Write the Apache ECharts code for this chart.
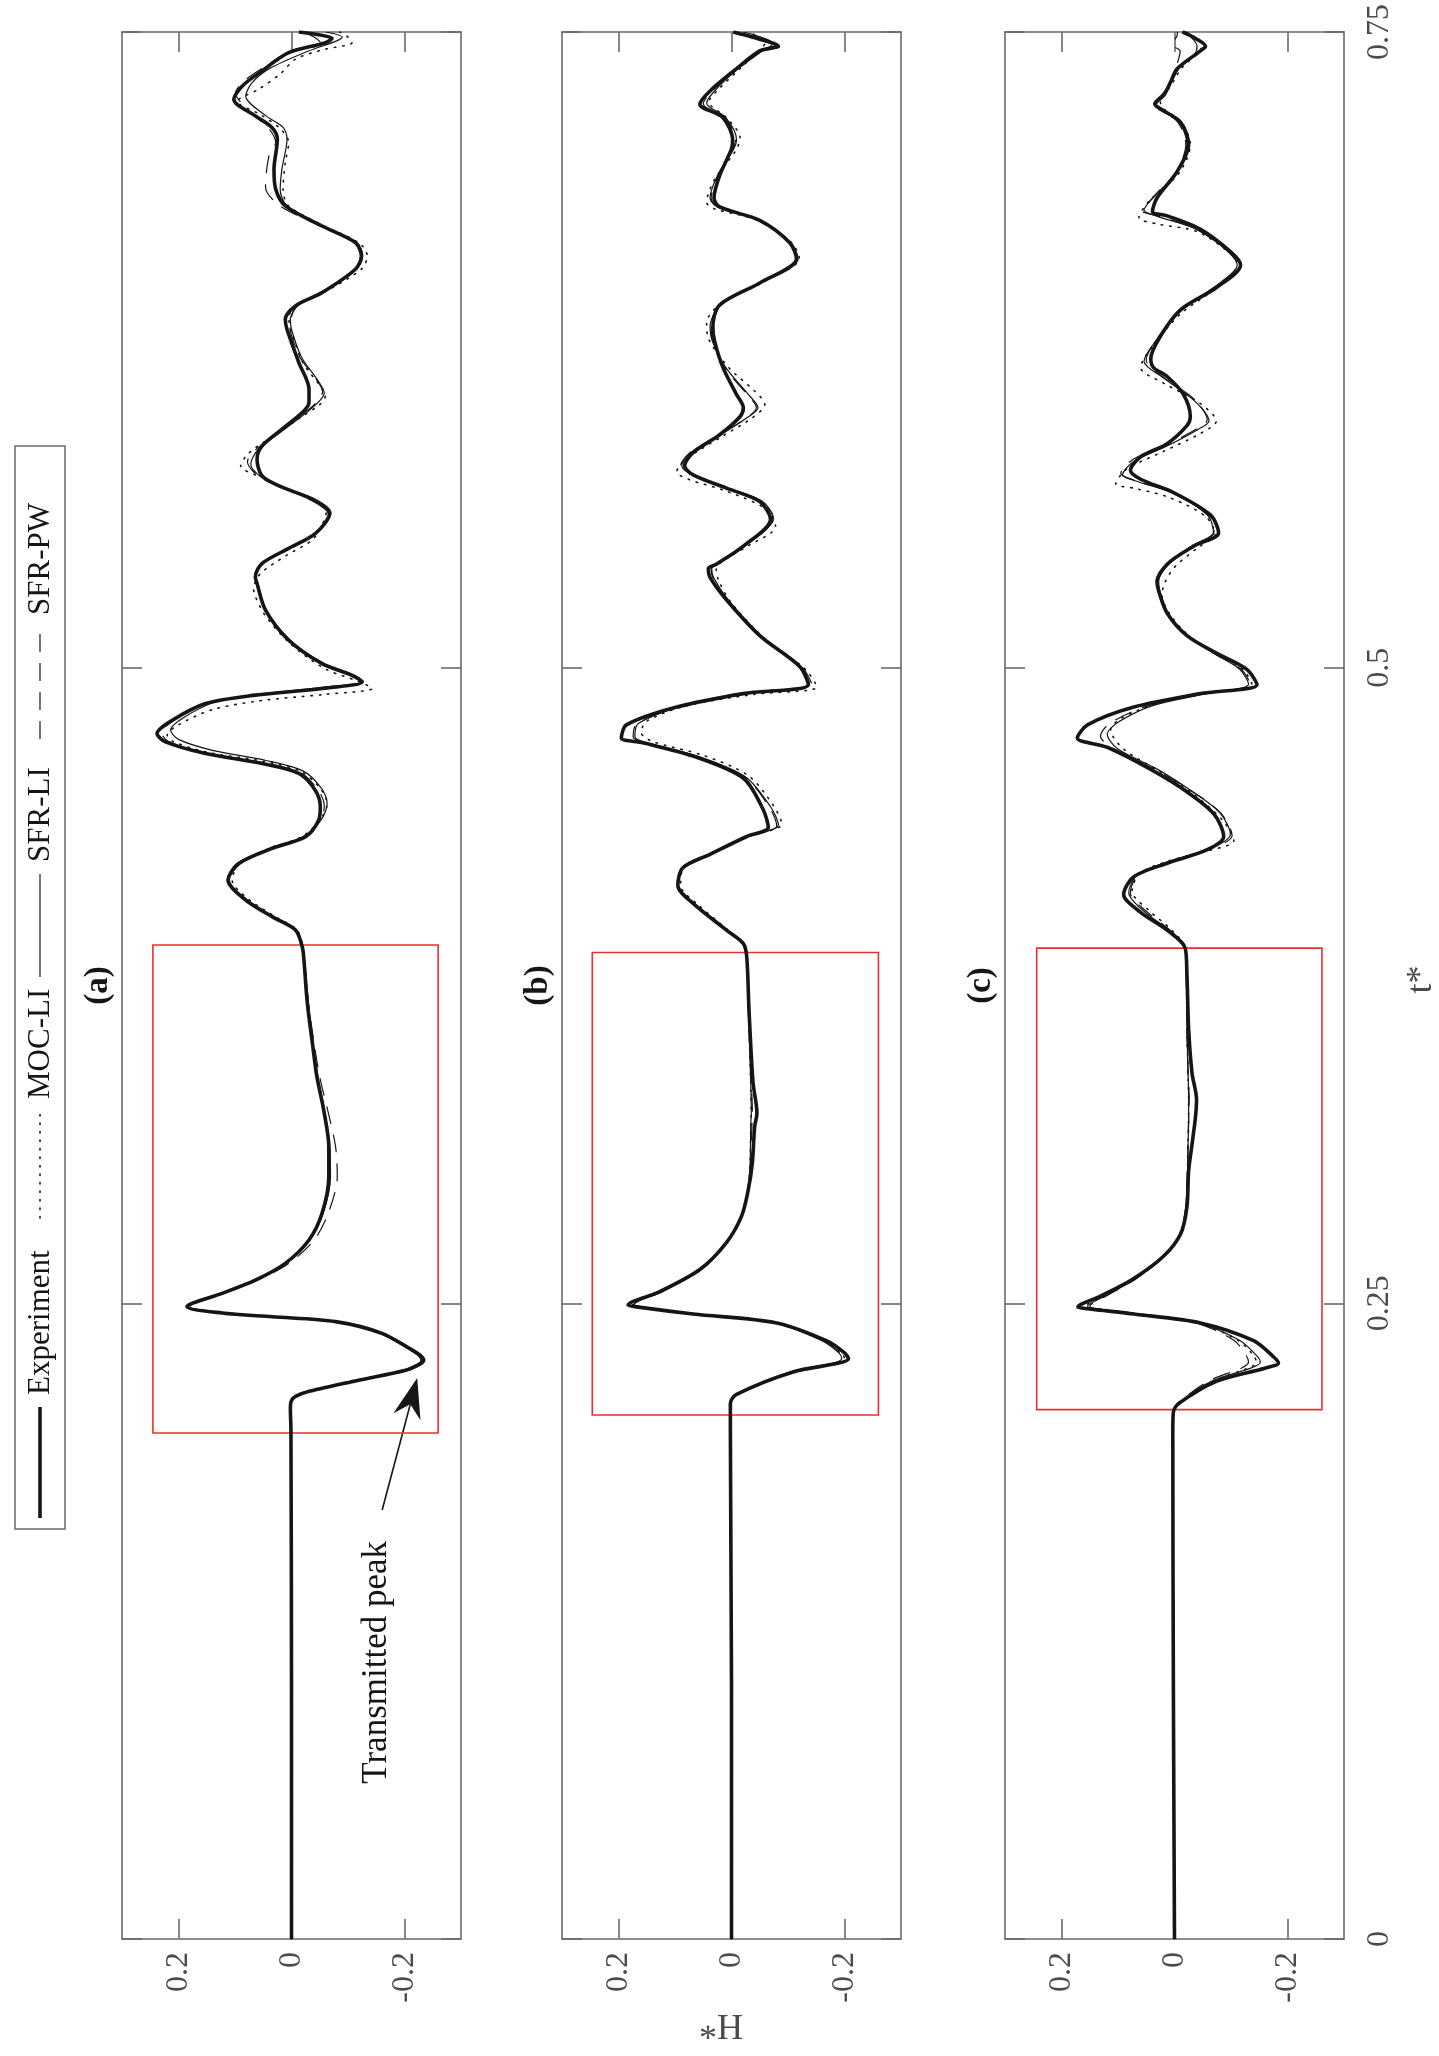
<!DOCTYPE html>
<html><head><meta charset="utf-8">
<script src="https://cdn.jsdelivr.net/npm/echarts@6/dist/echarts.min.js"></script>
<style>html,body{margin:0;padding:0;background:#fff}#c{width:1439px;height:2056px}</style>
</head><body><div id="c"></div>
<script>
// ---- tick labels ----
const tTicks = [0, 0.25, 0.5, 0.75];
const hTicks = [-0.2, 0, 0.2];
const panelLabels = ['(a)', '(b)', '(c)'];
const seriesNames = ['Experiment', 'MOC-LI', 'SFR-LI', 'SFR-PW'];

// ---- data: [t*, H*] ----
const aExp = [[0,0],[0.1,0],[0.2,0.001],[0.209,0.002],[0.2118,0.0],[0.2135,-0.008],[0.2155,-0.033],[0.2195,-0.113],[0.2237,-0.202],[0.2262,-0.228],[0.2277,-0.234],[0.2295,-0.228],[0.2316,-0.214],[0.2382,-0.160],[0.2428,-0.078],[0.2447,0.034],[0.2462,0.123],[0.2487,0.185],[0.2539,0.123],[0.2591,0.064],[0.2657,0.011],[0.2749,-0.031],[0.2854,-0.054],[0.2998,-0.066],[0.3116,-0.066],[0.326,-0.057],[0.339,-0.045],[0.3523,-0.037],[0.368,-0.028],[0.385,-0.022],[0.3902,-0.019],[0.3968,-0.007],[0.402,0.034],[0.4086,0.081],[0.4164,0.112],[0.423,0.093],[0.4289,0.034],[0.4335,-0.025],[0.44,-0.048],[0.4453,-0.051],[0.4518,-0.042],[0.4584,-0.013],[0.4623,0.052],[0.4662,0.152],[0.4708,0.223],[0.4741,0.238],[0.4793,0.211],[0.4859,0.152],[0.4892,0.064],[0.4918,-0.054],[0.4944,-0.125],[0.497,-0.107],[0.5016,-0.054],[0.5108,0.005],[0.5226,0.046],[0.5331,0.061],[0.5357,0.064],[0.541,0.052],[0.5469,0.005],[0.5527,-0.042],[0.5605,-0.067],[0.5663,-0.035],[0.5715,0.022],[0.5754,0.052],[0.582,0.061],[0.5872,0.052],[0.5938,0.017],[0.6003,-0.019],[0.6043,-0.031],[0.6095,-0.031],[0.62,-0.013],[0.6331,0.008],[0.637,0.011],[0.6423,-0.007],[0.6475,-0.054],[0.6567,-0.113],[0.6619,-0.124],[0.6672,-0.113],[0.6737,-0.054],[0.6816,0.011],[0.6882,0.028],[0.696,0.031],[0.7078,0.025],[0.7125,0.035],[0.717,0.064],[0.7235,0.102],[0.7288,0.087],[0.7347,0.052],[0.7419,0.005],[0.7458,-0.06],[0.7475,-0.072],[0.75,-0.013]];
const aMoc = [[0,0],[0.1,0],[0.2,0.001],[0.209,0.002],[0.2118,0.0],[0.2135,-0.008],[0.2155,-0.033],[0.2195,-0.112],[0.2237,-0.2],[0.2262,-0.226],[0.2277,-0.232],[0.2295,-0.226],[0.2316,-0.212],[0.2382,-0.158],[0.2428,-0.077],[0.2447,0.033],[0.2462,0.12],[0.2487,0.183],[0.2539,0.122],[0.2591,0.063],[0.2657,0.011],[0.2749,-0.031],[0.2854,-0.055],[0.2998,-0.068],[0.3116,-0.067],[0.326,-0.058],[0.339,-0.046],[0.3523,-0.038],[0.368,-0.029],[0.385,-0.022],[0.3902,-0.02],[0.3968,-0.01],[0.402,0.028],[0.4086,0.074],[0.4164,0.105],[0.423,0.092],[0.4289,0.04],[0.4335,-0.018],[0.44,-0.05],[0.4465,-0.063],[0.4528,-0.05],[0.4594,-0.015],[0.4632,0.05],[0.4668,0.15],[0.471,0.21],[0.4735,0.22],[0.4775,0.2],[0.4835,0.14],[0.487,0.055],[0.4895,-0.06],[0.4918,-0.143],[0.4945,-0.12],[0.4995,-0.06],[0.509,0.0],[0.52,0.045],[0.528,0.064],[0.531,0.067],[0.537,0.055],[0.544,0.01],[0.551,-0.04],[0.562,-0.062],[0.5665,-0.03],[0.5705,0.01],[0.5745,0.05],[0.5794,0.09],[0.5845,0.075],[0.5915,0.03],[0.599,-0.02],[0.6035,-0.05],[0.6069,-0.06],[0.611,-0.05],[0.62,-0.02],[0.632,0.0],[0.638,0.005],[0.643,-0.015],[0.6485,-0.065],[0.657,-0.125],[0.662,-0.134],[0.667,-0.12],[0.6735,-0.06],[0.6816,0.005],[0.6882,0.015],[0.6986,0.011],[0.7065,0.005],[0.712,0.02],[0.7175,0.055],[0.7227,0.096],[0.7275,0.058],[0.7335,0.02],[0.7393,-0.007],[0.743,-0.055],[0.7458,-0.107],[0.748,-0.1],[0.75,-0.085]];
const aLi = [[0,0],[0.1,0],[0.2,0.001],[0.209,0.002],[0.2118,0.0],[0.2135,-0.008],[0.2155,-0.032],[0.2195,-0.11],[0.2237,-0.198],[0.2262,-0.224],[0.2277,-0.229],[0.2295,-0.224],[0.2316,-0.21],[0.2382,-0.157],[0.2428,-0.076],[0.2447,0.032],[0.2462,0.118],[0.2487,0.18],[0.2539,0.12],[0.2591,0.062],[0.2657,0.01],[0.2749,-0.032],[0.2854,-0.056],[0.2998,-0.069],[0.3116,-0.068],[0.326,-0.058],[0.339,-0.047],[0.3523,-0.038],[0.368,-0.03],[0.385,-0.023],[0.3902,-0.02],[0.3968,-0.009],[0.402,0.03],[0.4086,0.078],[0.4164,0.114],[0.423,0.097],[0.4289,0.04],[0.4335,-0.02],[0.44,-0.052],[0.4465,-0.063],[0.4528,-0.052],[0.4594,-0.02],[0.4635,0.045],[0.4675,0.14],[0.4718,0.2],[0.4755,0.214],[0.4805,0.19],[0.4865,0.135],[0.4895,0.06],[0.4922,-0.05],[0.4947,-0.127],[0.4972,-0.11],[0.5018,-0.056],[0.511,0.003],[0.5226,0.045],[0.533,0.06],[0.536,0.063],[0.5412,0.05],[0.547,0.003],[0.553,-0.045],[0.5608,-0.07],[0.5665,-0.04],[0.5712,0.02],[0.5752,0.055],[0.58,0.072],[0.5855,0.06],[0.5925,0.02],[0.6,-0.025],[0.605,-0.05],[0.608,-0.058],[0.6125,-0.048],[0.622,-0.018],[0.633,0.0],[0.637,0.002],[0.6425,-0.012],[0.648,-0.058],[0.657,-0.116],[0.662,-0.126],[0.6672,-0.115],[0.6737,-0.056],[0.6816,0.008],[0.6882,0.02],[0.696,0.017],[0.7078,0.008],[0.7125,0.015],[0.717,0.045],[0.7248,0.081],[0.73,0.07],[0.7355,0.04],[0.7425,-0.03],[0.7465,-0.08],[0.748,-0.09],[0.75,-0.06]];
const aPw = [[0,0],[0.1,0],[0.2,0.001],[0.209,0.002],[0.2118,0.0],[0.2135,-0.008],[0.2155,-0.032],[0.2195,-0.111],[0.2237,-0.2],[0.2262,-0.226],[0.2277,-0.231],[0.2295,-0.226],[0.2316,-0.212],[0.2382,-0.158],[0.2428,-0.077],[0.2447,0.033],[0.2462,0.12],[0.2487,0.183],[0.2539,0.12],[0.2591,0.06],[0.2657,0.005],[0.2749,-0.04],[0.2854,-0.065],[0.2998,-0.081],[0.3116,-0.078],[0.326,-0.064],[0.339,-0.05],[0.3523,-0.04],[0.368,-0.03],[0.385,-0.023],[0.3902,-0.02],[0.3968,-0.008],[0.402,0.032],[0.4086,0.08],[0.4164,0.11],[0.423,0.094],[0.4289,0.036],[0.4335,-0.022],[0.44,-0.052],[0.4458,-0.058],[0.4522,-0.046],[0.4588,-0.015],[0.4626,0.05],[0.4665,0.15],[0.471,0.218],[0.4745,0.23],[0.4797,0.205],[0.486,0.148],[0.4893,0.062],[0.492,-0.052],[0.4946,-0.126],[0.4972,-0.108],[0.5018,-0.055],[0.511,0.004],[0.5226,0.046],[0.533,0.062],[0.5358,0.065],[0.541,0.05],[0.547,0.003],[0.5528,-0.043],[0.5607,-0.068],[0.5664,-0.037],[0.5713,0.022],[0.5752,0.058],[0.581,0.078],[0.586,0.062],[0.593,0.02],[0.6,-0.022],[0.6045,-0.045],[0.6085,-0.055],[0.613,-0.045],[0.622,-0.015],[0.628,-0.004],[0.634,0.003],[0.6425,-0.01],[0.648,-0.056],[0.657,-0.113],[0.662,-0.122],[0.6672,-0.11],[0.6737,-0.052],[0.6816,0.02],[0.689,0.046],[0.7012,0.04],[0.7065,0.028],[0.712,0.04],[0.718,0.07],[0.726,0.099],[0.7305,0.085],[0.736,0.05],[0.7425,0.0],[0.7452,-0.054],[0.748,-0.04],[0.75,-0.02]];

const bExp = [[0,0],[0.1,0],[0.2,0.002],[0.2107,0.002],[0.2142,-0.009],[0.223,-0.109],[0.2265,-0.19],[0.2282,-0.207],[0.2305,-0.2],[0.2353,-0.168],[0.2423,-0.08],[0.2458,0.068],[0.2486,0.168],[0.2493,0.183],[0.2546,0.127],[0.2633,0.056],[0.2739,0.009],[0.2844,-0.018],[0.295,-0.03],[0.3055,-0.037],[0.3195,-0.041],[0.3248,-0.045],[0.3371,-0.038],[0.3652,-0.031],[0.3862,-0.027],[0.3915,-0.021],[0.3968,0.009],[0.4073,0.068],[0.4143,0.095],[0.4213,0.086],[0.4266,0.038],[0.4336,-0.027],[0.4371,-0.065],[0.4442,-0.056],[0.4565,-0.021],[0.4652,0.068],[0.4705,0.157],[0.4723,0.195],[0.4775,0.186],[0.4845,0.097],[0.4898,-0.021],[0.4933,-0.136],[0.5004,-0.121],[0.5126,-0.05],[0.5267,0.009],[0.5355,0.038],[0.539,0.041],[0.5407,0.027],[0.5478,-0.021],[0.5583,-0.069],[0.5653,-0.05],[0.5706,0.009],[0.5758,0.068],[0.5794,0.083],[0.5846,0.068],[0.5916,0.021],[0.5987,-0.015],[0.6022,-0.021],[0.6074,-0.009],[0.618,0.015],[0.6285,0.03],[0.6338,0.033],[0.6426,0.021],[0.6513,-0.05],[0.6608,-0.115],[0.6671,-0.103],[0.6759,-0.05],[0.6812,0.021],[0.6847,0.031],[0.6935,0.021],[0.704,0.0],[0.7075,-0.002],[0.7163,0.015],[0.7216,0.056],[0.7268,0.038],[0.7356,-0.009],[0.7426,-0.05],[0.7444,-0.083],[0.7479,-0.038],[0.75,-0.003]];
const bMoc = [[0,0],[0.1,0],[0.2,0.002],[0.2107,0.002],[0.2142,-0.009],[0.223,-0.106],[0.2265,-0.186],[0.2282,-0.2],[0.2305,-0.195],[0.2353,-0.163],[0.2423,-0.078],[0.2458,0.064],[0.2486,0.162],[0.2495,0.175],[0.2546,0.124],[0.2633,0.055],[0.2739,0.009],[0.2844,-0.018],[0.295,-0.029],[0.3055,-0.033],[0.3195,-0.034],[0.3248,-0.035],[0.3371,-0.034],[0.3652,-0.03],[0.3862,-0.027],[0.3915,-0.022],[0.3968,0.006],[0.4073,0.062],[0.4143,0.09],[0.4213,0.085],[0.4266,0.04],[0.4336,-0.03],[0.4385,-0.089],[0.4455,-0.075],[0.4575,-0.03],[0.4655,0.05],[0.471,0.14],[0.4745,0.16],[0.479,0.15],[0.485,0.08],[0.4895,-0.04],[0.4925,-0.151],[0.4995,-0.13],[0.512,-0.056],[0.526,0.002],[0.535,0.024],[0.539,0.027],[0.542,0.015],[0.548,-0.03],[0.5555,-0.078],[0.5625,-0.06],[0.5695,0.01],[0.574,0.075],[0.577,0.097],[0.582,0.08],[0.5905,0.02],[0.598,-0.035],[0.6035,-0.059],[0.609,-0.04],[0.618,0.005],[0.629,0.04],[0.6355,0.044],[0.643,0.02],[0.6515,-0.055],[0.661,-0.12],[0.6675,-0.105],[0.676,-0.045],[0.6805,0.03],[0.683,0.044],[0.692,0.03],[0.7035,-0.008],[0.7085,-0.015],[0.7165,0.01],[0.7225,0.04],[0.727,0.025],[0.7356,-0.015],[0.743,-0.05],[0.7458,-0.06],[0.749,-0.04],[0.75,-0.03]];
const bLi = [[0,0],[0.1,0],[0.2,0.002],[0.2107,0.002],[0.2142,-0.009],[0.223,-0.104],[0.2265,-0.18],[0.2282,-0.195],[0.2305,-0.19],[0.2353,-0.16],[0.2423,-0.076],[0.2458,0.062],[0.2486,0.158],[0.2495,0.172],[0.2546,0.122],[0.2633,0.054],[0.2739,0.008],[0.2844,-0.018],[0.295,-0.029],[0.3055,-0.033],[0.3195,-0.034],[0.3248,-0.035],[0.3371,-0.034],[0.3652,-0.03],[0.3862,-0.027],[0.3915,-0.021],[0.3968,0.008],[0.4073,0.066],[0.4143,0.094],[0.4213,0.088],[0.4266,0.04],[0.4336,-0.03],[0.4381,-0.083],[0.445,-0.07],[0.457,-0.025],[0.4652,0.06],[0.4705,0.15],[0.4728,0.171],[0.478,0.165],[0.4848,0.09],[0.49,-0.025],[0.4936,-0.138],[0.5006,-0.122],[0.5126,-0.052],[0.5267,0.006],[0.5355,0.032],[0.539,0.035],[0.5407,0.024],[0.5478,-0.024],[0.5588,-0.074],[0.5655,-0.054],[0.5706,0.006],[0.5758,0.07],[0.5794,0.088],[0.5846,0.072],[0.5916,0.02],[0.5987,-0.03],[0.6022,-0.047],[0.6074,-0.03],[0.618,0.01],[0.6285,0.034],[0.6338,0.038],[0.6426,0.02],[0.6513,-0.052],[0.6608,-0.118],[0.6671,-0.105],[0.6759,-0.05],[0.6812,0.025],[0.6847,0.038],[0.6935,0.025],[0.704,-0.004],[0.7075,-0.009],[0.7163,0.01],[0.722,0.044],[0.7268,0.03],[0.7356,-0.012],[0.7426,-0.055],[0.7455,-0.074],[0.7485,-0.045],[0.75,-0.02]];
const bPw = [[0,0],[0.1,0],[0.2,0.002],[0.2107,0.002],[0.2142,-0.009],[0.223,-0.105],[0.2265,-0.183],[0.2282,-0.197],[0.2305,-0.192],[0.2353,-0.162],[0.2423,-0.077],[0.2458,0.063],[0.2486,0.16],[0.2495,0.173],[0.2546,0.123],[0.2633,0.055],[0.2739,0.008],[0.2844,-0.018],[0.295,-0.029],[0.3055,-0.034],[0.3195,-0.036],[0.3248,-0.037],[0.3371,-0.035],[0.3652,-0.03],[0.3862,-0.027],[0.3915,-0.021],[0.3968,0.008],[0.4073,0.066],[0.4143,0.094],[0.4213,0.087],[0.4266,0.039],[0.4336,-0.03],[0.4378,-0.08],[0.4448,-0.068],[0.4568,-0.024],[0.4652,0.062],[0.4705,0.152],[0.4727,0.174],[0.4778,0.168],[0.4846,0.092],[0.4899,-0.023],[0.4935,-0.142],[0.5005,-0.124],[0.5126,-0.052],[0.5267,0.007],[0.5355,0.033],[0.539,0.036],[0.5407,0.025],[0.5478,-0.023],[0.5586,-0.074],[0.5654,-0.053],[0.5706,0.007],[0.5758,0.07],[0.5794,0.09],[0.5846,0.073],[0.5916,0.02],[0.5987,-0.03],[0.6022,-0.044],[0.6074,-0.028],[0.618,0.012],[0.6285,0.033],[0.6338,0.036],[0.6426,0.02],[0.6513,-0.052],[0.6608,-0.117],[0.6671,-0.104],[0.6759,-0.05],[0.6812,0.024],[0.6847,0.036],[0.6935,0.024],[0.704,-0.003],[0.7075,-0.007],[0.7163,0.012],[0.7218,0.05],[0.7268,0.034],[0.7356,-0.01],[0.7426,-0.052],[0.745,-0.078],[0.7482,-0.04],[0.75,-0.01]];

const cExp = [[0,0],[0.1,0.002],[0.2,0.003],[0.2072,0.002],[0.2107,-0.008],[0.2194,-0.075],[0.2245,-0.16],[0.2265,-0.184],[0.229,-0.175],[0.2353,-0.14],[0.2423,-0.046],[0.2458,0.072],[0.2479,0.154],[0.2486,0.171],[0.2528,0.131],[0.2598,0.072],[0.2686,0.019],[0.2774,-0.011],[0.2879,-0.022],[0.302,-0.025],[0.3125,-0.031],[0.323,-0.037],[0.3301,-0.039],[0.3406,-0.031],[0.3581,-0.025],[0.3792,-0.022],[0.3897,-0.019],[0.3968,0.013],[0.4038,0.06],[0.4108,0.09],[0.4178,0.072],[0.4231,0.013],[0.4284,-0.058],[0.4336,-0.087],[0.4424,-0.07],[0.4512,-0.022],[0.46,0.042],[0.4687,0.119],[0.4723,0.172],[0.4775,0.154],[0.4845,0.072],[0.4898,-0.046],[0.4933,-0.146],[0.4993,-0.128],[0.5056,-0.075],[0.5126,-0.022],[0.5214,0.013],[0.5302,0.028],[0.5337,0.031],[0.5407,0.013],[0.5478,-0.034],[0.553,-0.078],[0.56,-0.064],[0.5688,0.001],[0.5741,0.06],[0.5776,0.078],[0.5829,0.06],[0.5881,0.013],[0.5952,-0.022],[0.5987,-0.028],[0.6074,-0.016],[0.6145,0.013],[0.618,0.037],[0.6215,0.042],[0.6303,0.025],[0.6408,-0.011],[0.6496,-0.075],[0.6584,-0.117],[0.6636,-0.099],[0.6724,-0.046],[0.6777,0.013],[0.6794,0.039],[0.6847,0.031],[0.6952,-0.005],[0.7058,-0.025],[0.7145,-0.011],[0.7198,0.025],[0.7216,0.034],[0.7251,0.019],[0.7303,0.007],[0.7356,-0.005],[0.7426,-0.046],[0.7444,-0.055],[0.7486,-0.028],[0.75,-0.014]];
const cMoc = [[0,0],[0.1,0.002],[0.2,0.003],[0.2072,0.002],[0.2107,-0.007],[0.2194,-0.068],[0.2245,-0.13],[0.2268,-0.145],[0.2295,-0.14],[0.2355,-0.112],[0.2423,-0.042],[0.2458,0.065],[0.2479,0.143],[0.2488,0.157],[0.253,0.124],[0.2598,0.069],[0.2686,0.018],[0.2774,-0.01],[0.2879,-0.02],[0.302,-0.023],[0.3125,-0.024],[0.323,-0.025],[0.3301,-0.025],[0.3406,-0.024],[0.3581,-0.022],[0.3792,-0.021],[0.3897,-0.019],[0.3968,0.005],[0.4045,0.045],[0.412,0.075],[0.419,0.062],[0.424,0.01],[0.428,-0.06],[0.432,-0.105],[0.44,-0.085],[0.45,-0.035],[0.459,0.025],[0.468,0.09],[0.4755,0.113],[0.48,0.095],[0.486,0.03],[0.49,-0.06],[0.4935,-0.137],[0.4995,-0.12],[0.5056,-0.07],[0.5126,-0.025],[0.521,0.008],[0.5285,0.022],[0.533,0.018],[0.5395,0.0],[0.547,-0.04],[0.5525,-0.072],[0.5595,-0.055],[0.567,0.01],[0.5705,0.07],[0.5723,0.104],[0.578,0.085],[0.585,0.02],[0.592,-0.045],[0.597,-0.074],[0.604,-0.045],[0.612,0.02],[0.618,0.06],[0.626,0.04],[0.639,-0.01],[0.649,-0.072],[0.6575,-0.114],[0.663,-0.098],[0.6715,-0.04],[0.6745,0.03],[0.677,0.063],[0.6835,0.045],[0.6945,-0.008],[0.7058,-0.028],[0.7145,-0.012],[0.72,0.02],[0.7225,0.025],[0.726,0.015],[0.7305,0.002],[0.7356,-0.012],[0.7415,-0.04],[0.745,-0.05],[0.749,-0.03],[0.75,-0.025]];
const cLi = [[0,0],[0.1,0.002],[0.2,0.003],[0.2072,0.002],[0.2107,-0.007],[0.2194,-0.066],[0.2245,-0.135],[0.2268,-0.152],[0.2295,-0.145],[0.2355,-0.115],[0.2423,-0.04],[0.2458,0.062],[0.2479,0.14],[0.2488,0.154],[0.253,0.122],[0.2598,0.068],[0.2686,0.018],[0.2774,-0.01],[0.2879,-0.02],[0.302,-0.023],[0.3125,-0.024],[0.323,-0.025],[0.3301,-0.025],[0.3406,-0.024],[0.3581,-0.022],[0.3792,-0.021],[0.3897,-0.019],[0.3968,0.01],[0.4038,0.052],[0.4115,0.081],[0.4185,0.066],[0.4238,0.01],[0.429,-0.065],[0.4345,-0.099],[0.443,-0.08],[0.4515,-0.03],[0.46,0.03],[0.468,0.1],[0.4738,0.119],[0.4785,0.1],[0.485,0.04],[0.4895,-0.05],[0.4935,-0.131],[0.4995,-0.115],[0.5056,-0.07],[0.5126,-0.022],[0.5214,0.012],[0.5302,0.026],[0.534,0.028],[0.5407,0.01],[0.5478,-0.03],[0.5533,-0.069],[0.5602,-0.058],[0.5688,0.005],[0.5735,0.07],[0.5758,0.092],[0.5815,0.07],[0.587,0.015],[0.5935,-0.04],[0.597,-0.061],[0.605,-0.035],[0.614,0.02],[0.6205,0.054],[0.628,0.035],[0.64,-0.01],[0.6496,-0.07],[0.6584,-0.111],[0.6636,-0.095],[0.6724,-0.038],[0.6775,0.03],[0.68,0.054],[0.6855,0.035],[0.6952,-0.005],[0.7058,-0.022],[0.7145,-0.008],[0.72,0.03],[0.7218,0.037],[0.7255,0.022],[0.7305,0.005],[0.7356,-0.008],[0.741,-0.035],[0.7445,-0.04],[0.749,-0.025],[0.75,-0.02]];
const cPw = [[0,0],[0.1,0.002],[0.2,0.003],[0.2072,0.002],[0.2107,-0.006],[0.2194,-0.06],[0.2245,-0.118],[0.2268,-0.131],[0.2295,-0.127],[0.2355,-0.105],[0.2423,-0.038],[0.2458,0.06],[0.2479,0.136],[0.2488,0.15],[0.253,0.12],[0.2598,0.067],[0.2686,0.018],[0.2774,-0.01],[0.2879,-0.02],[0.302,-0.023],[0.3125,-0.024],[0.323,-0.025],[0.3301,-0.026],[0.3406,-0.024],[0.3581,-0.022],[0.3792,-0.021],[0.3897,-0.019],[0.3968,0.008],[0.4042,0.05],[0.4113,0.078],[0.4185,0.064],[0.4238,0.008],[0.4288,-0.065],[0.434,-0.102],[0.4428,-0.082],[0.4515,-0.03],[0.46,0.035],[0.4685,0.11],[0.473,0.131],[0.478,0.115],[0.4848,0.05],[0.4896,-0.05],[0.4934,-0.134],[0.4994,-0.118],[0.5056,-0.07],[0.5126,-0.022],[0.5214,0.013],[0.5302,0.028],[0.5338,0.03],[0.5407,0.012],[0.5478,-0.032],[0.5532,-0.07],[0.5601,-0.058],[0.5688,0.004],[0.5738,0.072],[0.5765,0.095],[0.582,0.073],[0.5875,0.015],[0.594,-0.04],[0.5975,-0.058],[0.6055,-0.035],[0.6143,0.02],[0.621,0.05],[0.629,0.032],[0.6405,-0.01],[0.6496,-0.07],[0.6584,-0.111],[0.6636,-0.096],[0.6724,-0.04],[0.6777,0.03],[0.6797,0.057],[0.685,0.038],[0.6952,-0.003],[0.7058,-0.02],[0.7145,-0.006],[0.72,0.03],[0.7218,0.036],[0.7253,0.02],[0.7303,0.006],[0.7356,-0.002],[0.7425,-0.01],[0.745,0.005],[0.749,-0.005],[0.75,-0.005]];

// red zoom boxes: [H*, t*] corners
const boxA = [[0.2453, 0.3909], [-0.2596, 0.199]];
const boxB = [[0.2464, 0.388], [-0.26, 0.2061]];
const boxC = [[0.2439, 0.3897], [-0.261, 0.2082]];

// annotation (panel a) in data coords [H*, t*]
const arrowTail = [-0.1605, 0.1687];
const arrowTip = [-0.2225, 0.2206];
const noteAt = [-0.1517, 0.1088];
</script>
<script>
const FONT = '"Liberation Serif","Times New Roman",Times,serif';
const FRAME = '#6a6a6a';
const LBL = '#4a4a4a';
const INK = '#161616';
const LEFTS = [122, 562, 1005];
const panels = [
  {d: [aExp, aMoc, aLi, aPw], box: boxA},
  {d: [bExp, bMoc, bLi, bPw], box: boxB},
  {d: [cExp, cMoc, cLi, cPw], box: boxC}
];
const styles = [
  {color: INK, width: 3.6, type: 'solid'},
  {color: INK, width: 1.6, type: [1.5, 7], cap: 'round'},
  {color: INK, width: 1.2, type: 'solid'},
  {color: INK, width: 1.2, type: [18, 11]}
];
const toXY = arr => arr.map(p => [p[1], p[0]]);

const option = {
  animation: false,
  backgroundColor: '#fff',
  grid: LEFTS.map(l => ({left: l, top: 32, width: 339, height: 1907, containLabel: false, outerBoundsMode: 'none'})),
  xAxis: [], yAxis: [], series: [], graphic: []
};

LEFTS.forEach((l, i) => {
  const axLine = {show: true, onZero: false, lineStyle: {color: FRAME, width: 1.6}};
  const tick = (vals) => ({show: true, inside: true, length: 20, customValues: vals, lineStyle: {color: FRAME, width: 1.6}});
  ['bottom', 'top'].forEach((pos, k) => {
    option.xAxis.push({
      type: 'value', gridIndex: i, position: pos, min: -0.3, max: 0.3, inverse: true,
      axisLine: axLine, axisTick: tick(hTicks), splitLine: {show: false},
      axisLabel: k === 0 ? {show: true, customValues: hTicks, rotate: 90, margin: 13, fontSize: 32, fontFamily: FONT, color: LBL}
                         : {show: false}
    });
  });
  ['left', 'right'].forEach((pos, k) => {
    option.yAxis.push({
      type: 'value', gridIndex: i, position: pos, min: 0, max: 0.75, interval: 0.25,
      axisLine: axLine, axisTick: tick(tTicks), splitLine: {show: false},
      axisLabel: (k === 1 && i === 2) ? {show: true, customValues: tTicks, rotate: 90, margin: 20, fontSize: 32, fontFamily: FONT, color: LBL, showMinLabel: true, showMaxLabel: true}
                                      : {show: false}
    });
  });
  panels[i].d.forEach((arr, s) => {
    const ser = {
      type: 'line', name: seriesNames[s], xAxisIndex: 2 * i, yAxisIndex: 2 * i,
      data: toXY(arr), showSymbol: false, symbol: 'none', smooth: 0.3,
      lineStyle: styles[s], z: s === 0 ? 2 : 3, silent: true
    };
    if (s === 0) {
      const b = panels[i].box;
      ser.markArea = {silent: true, itemStyle: {color: 'rgba(0,0,0,0)', borderColor: '#e8302f', borderWidth: 1.6},
        data: [[{coord: b[0]}, {coord: b[1]}]]};
    }
    option.series.push(ser);
  });
});

const chart = echarts.init(document.getElementById('c'), null, {renderer: 'canvas'});
chart.setOption(option);

// ---- annotations & legend (drawn in pixel space after layout) ----
const px = (g, v) => chart.convertToPixel({xAxisIndex: 2 * g, yAxisIndex: 2 * g}, v);
const g = [];
const rotText = (text, x, y, size, opts) => Object.assign({
  type: 'text', x, y, rotation: Math.PI / 2, silent: true,
  style: Object.assign({text, font: size + 'px ' + FONT, fill: INK, textAlign: 'center', textVerticalAlign: 'middle'}, opts || {})
});
// panel labels
LEFTS.forEach((l, i) => {
  const p = px(i, [0.3, 0.375]);
  g.push({type: 'text', x: p[0] - 24, y: p[1], rotation: Math.PI / 2, silent: true,
    style: {text: panelLabels[i], font: 'bold 33px ' + FONT, fill: INK, textAlign: 'center', textVerticalAlign: 'middle'}});
});
// axis names
g.push({type: 'text', x: 1422, y: px(2, [0, 0.375])[1] - 6, rotation: Math.PI / 2, silent: true,
  style: {text: 't*', font: '36px ' + FONT, fill: LBL, textAlign: 'center', textVerticalAlign: 'middle'}});
g.push({type: 'text', x: 721, y: 2024, rotation: Math.PI, silent: true,
  style: {text: 'H*', font: '36px ' + FONT, fill: LBL, textAlign: 'center', textVerticalAlign: 'middle'}});
// arrow + note
const T = px(0, arrowTip), S = px(0, arrowTail);
const dx = T[0] - S[0], dy = T[1] - S[1], len = Math.hypot(dx, dy);
const ux = dx / len, uy = dy / len, nx = -uy, ny = ux;
const HL = 40, HW = 14, NB = 27;
const base = [T[0] - ux * HL, T[1] - uy * HL];
const notch = [T[0] - ux * NB, T[1] - uy * NB];
g.push({type: 'line', silent: true, shape: {x1: S[0], y1: S[1], x2: notch[0], y2: notch[1]}, style: {stroke: INK, lineWidth: 1.6}});
g.push({type: 'polygon', silent: true, shape: {points: [T, [base[0] + nx * HW, base[1] + ny * HW], notch, [base[0] - nx * HW, base[1] - ny * HW]]}, style: {fill: INK}});
const N = px(0, noteAt);
g.push(rotText('Transmitted peak', N[0], N[1], 35));
// legend
g.push({type: 'rect', silent: true, shape: {x: 15, y: 446, width: 50, height: 1083}, style: {fill: 'none', stroke: FRAME, lineWidth: 1.5}});
const legItems = [
  {y1: 1518, y2: 1407, st: {lineWidth: 3.6}},
  {y1: 1218, y2: 1111, st: {lineWidth: 1.6, lineDash: [1.5, 7], lineCap: 'round'}},
  {y1: 977, y2: 874, st: {lineWidth: 1.2}},
  {y1: 739, y2: 627, st: {lineWidth: 1.2, lineDash: [18, 11]}}
];
legItems.forEach((it, k) => {
  g.push({type: 'line', silent: true, shape: {x1: 40, y1: it.y1, x2: 40, y2: it.y2}, style: Object.assign({stroke: INK}, it.st)});
  g.push(rotText(seriesNames[k], 41, it.y2 - 12, 31, {textAlign: 'left'}));
});
chart.setOption({graphic: g});
</script>
</body></html>
